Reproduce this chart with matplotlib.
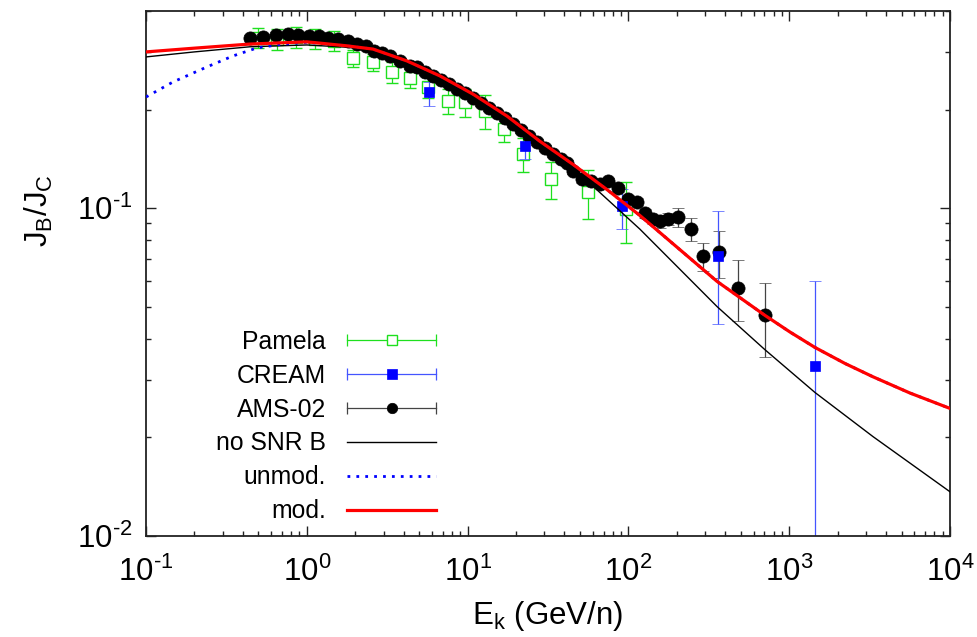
import math
import matplotlib
matplotlib.use('Agg')
import matplotlib.pyplot as plt
from matplotlib.legend_handler import HandlerBase
from matplotlib.lines import Line2D
from matplotlib.ticker import LogLocator, NullFormatter, FuncFormatter

plt.rcParams['font.family'] = ['Liberation Sans', 'DejaVu Sans']
plt.rcParams['mathtext.fontset'] = 'custom'
plt.rcParams['mathtext.rm'] = 'Liberation Sans'
plt.rcParams['mathtext.it'] = 'Liberation Sans:italic'
plt.rcParams['mathtext.default'] = 'regular'

# ---------------- data ----------------
pam_E = [0.497, 0.653, 0.857, 1.125, 1.476, 1.938, 2.581, 3.388, 4.384, 5.67,
         7.553, 9.634, 12.83, 16.84, 22.11, 33.02, 56.09, 96.6]
pam_val = [0.3311, 0.3287, 0.3334, 0.3287, 0.3241, 0.2870, 0.2790, 0.2600, 0.2492, 0.2344,
           0.2129, 0.2105, 0.1980, 0.1744, 0.1463, 0.1227, 0.1119, 0.0993]
pam_err = [0.023, 0.024, 0.024, 0.023, 0.023, 0.017, 0.017, 0.019, 0.017, 0.017,
           0.019, 0.021, 0.023, 0.015, 0.017, 0.016, 0.019, 0.021]

cream_E = [5.75, 22.75, 91.2, 360.6, 1447]
cream_val = [0.2263, 0.1547, 0.1014, 0.0713, 0.0329]
cream_err_lo = [0.021, 0.0135, 0.0151, 0.0271, 0.0279]
cream_err_hi = [0.0165, 0.0135, 0.0129, 0.0266, 0.0269]

ams_E = [0.443, 0.534, 0.643, 0.764, 0.882, 1.032, 1.191, 1.354, 1.563, 1.804,
         2.052, 2.334, 2.617, 2.936, 3.292, 3.798, 4.384, 4.845, 5.435, 6.093,
         6.833, 7.661, 8.594, 9.634, 10.80, 12.11, 13.59, 15.23, 17.08, 19.16,
         21.48, 24.09, 27.02, 30.29, 33.97, 38.09, 41.5, 45.24, 51.45, 58.55,
         66.6, 74.7, 86.1, 99.4, 113.1, 126.8, 142.2, 157.2, 176.3, 203.4,
         245.1, 291.1, 366.0, 480.4, 707.2]
ams_val = [0.3311, 0.3334, 0.3381, 0.3405, 0.3381, 0.3357, 0.3357, 0.3311, 0.3287, 0.3241,
           0.3173, 0.3129, 0.3020, 0.2979, 0.2916, 0.2815, 0.2718, 0.2699, 0.2606, 0.2533,
           0.2463, 0.2394, 0.2312, 0.2248, 0.2170, 0.2095, 0.2022, 0.1952, 0.1885, 0.1807,
           0.1732, 0.1660, 0.1592, 0.1526, 0.1463, 0.1412, 0.1376, 0.1298, 0.1227, 0.1209,
           0.1184, 0.1209, 0.1151, 0.1065, 0.1043, 0.0965, 0.0926, 0.0913, 0.0926, 0.0939,
           0.0863, 0.0713, 0.0733, 0.0573, 0.0471]
ams_err = [0.006, 0.006, 0.006, 0.006, 0.006, 0.006, 0.006, 0.006, 0.006, 0.006,
           0.006, 0.006, 0.005, 0.005, 0.005, 0.005, 0.005, 0.005, 0.005, 0.005,
           0.005, 0.005, 0.004, 0.004, 0.004, 0.004, 0.004, 0.004, 0.004, 0.004,
           0.004, 0.003, 0.003, 0.003, 0.003, 0.003, 0.003, 0.003, 0.003, 0.003,
           0.003, 0.003, 0.003, 0.003, 0.003, 0.003, 0.003, 0.004, 0.004, 0.006,
           0.007, 0.007, 0.012, 0.012, 0.012]

nosnr_E = [0.1, 0.2, 0.443, 1.0, 1.778, 2.58, 4.2, 6.74, 10.8, 17.6, 28.2, 45.3, 57.7,
           118, 356, 707, 1447, 3319, 10000]
nosnr_val = [0.2896, 0.300, 0.311, 0.315, 0.310, 0.303, 0.279, 0.251, 0.221, 0.189, 0.158,
             0.134, 0.119, 0.0863, 0.0501, 0.0370, 0.0274, 0.0201, 0.01364]

unmod_E = [0.1, 0.147, 0.2395, 0.3475, 0.490, 0.681, 1.0, 1.778, 2.58, 4.2, 6.74, 10.8,
           17.6, 28.2, 45.3, 73.6, 118, 356, 707, 1012, 1447, 2223, 3319, 5636, 10000]
unmod_val = [0.2185, 0.2428, 0.270, 0.2916, 0.3085, 0.316, 0.321, 0.313, 0.306, 0.2815,
             0.2533, 0.223, 0.191, 0.160, 0.136, 0.114, 0.095, 0.0598, 0.0471, 0.0419,
             0.0376, 0.0336, 0.0306, 0.0273, 0.0245]

mod_E = [0.1, 0.2, 0.443, 1.0, 1.778, 2.58, 4.2, 6.74, 10.8, 17.6, 28.2, 45.3, 73.6,
         118, 356, 707, 1012, 1447, 2223, 3319, 5636, 10000]
mod_val = [0.300, 0.308, 0.317, 0.322, 0.313, 0.306, 0.2815, 0.2533, 0.223, 0.191, 0.160,
           0.136, 0.114, 0.095, 0.0598, 0.0471, 0.0419, 0.0376, 0.0336, 0.0306, 0.0273,
           0.0245]

# ---------------- styling ----------------
GREEN = '#1ee01e'
BLUE = '#0000ff'
EBLUE = '#4455ff'
RED = '#ff0000'
FS_TICK = 22.5
FS_LEG = 17.8

fig = plt.figure(figsize=(9.78, 6.37), dpi=100)
ax = fig.add_axes([0.1493, 0.1586, 0.8221, 0.8242])
ax.set_xscale('log')
ax.set_yscale('log')

ax.errorbar(pam_E, pam_val, yerr=pam_err, fmt='s', mfc='white', mec=GREEN, ecolor=GREEN,
            ms=8, mew=1.0, elinewidth=0.9, capsize=4, capthick=0.9, zorder=2)
ax.errorbar(cream_E, cream_val, yerr=[cream_err_lo, cream_err_hi], fmt='s', mfc=BLUE, mec=BLUE,
            ecolor=EBLUE, ms=7.5, mew=0.5, elinewidth=0.9, capsize=4, capthick=0.9, zorder=2.2)
ax.errorbar(ams_E, ams_val, yerr=ams_err, fmt='o', mfc='black', mec='black', ecolor='#444444',
            ms=9.5, mew=0.5, elinewidth=0.9, capsize=4, capthick=0.9, zorder=2.1)

ax.plot(nosnr_E, nosnr_val, color='black', lw=1.0, zorder=3)
ax.plot(unmod_E, unmod_val, color=BLUE, lw=2.0, ls=(0, (1, 2.2)), zorder=3.1)
ax.plot(mod_E, mod_val, color=RED, lw=2.3, zorder=3.2)

ax.set_xlim(0.1, 1e4)
ax.set_ylim(0.01, 0.4)

ax.xaxis.set_major_locator(LogLocator(base=10, numticks=20))
ax.xaxis.set_minor_locator(LogLocator(base=10, subs=range(2, 10), numticks=20))
ax.yaxis.set_major_locator(LogLocator(base=10, numticks=20))
ax.yaxis.set_minor_locator(LogLocator(base=10, subs=range(2, 10), numticks=20))


def dec_fmt(v, p):
    e = round(math.log10(v))
    s = str(e).replace('-', '\u2010')
    return r'$\mathregular{10^{%s}}$' % s


fmt = FuncFormatter(dec_fmt)
ax.xaxis.set_major_formatter(fmt)
ax.yaxis.set_major_formatter(fmt)
ax.xaxis.set_minor_formatter(NullFormatter())
ax.yaxis.set_minor_formatter(NullFormatter())
ax.tick_params(which='both', direction='in', top=True, right=True, labelsize=FS_TICK,
               color='#222222', width=1.0)
ax.tick_params(which='major', length=7)
ax.tick_params(which='minor', length=3.5)
ax.tick_params(axis='x', which='major', pad=15)
ax.tick_params(axis='y', which='major', pad=10)
for s in ax.spines.values():
    s.set_linewidth(1.3)
    s.set_color('#222222')

ax.set_xlabel(r'$\mathregular{E_k}$ (GeV/n)', fontsize=FS_TICK, labelpad=8)
ax.set_ylabel(r'$\mathregular{J_B/J_C}$', fontsize=FS_TICK)
ax.yaxis.set_label_coords(-0.113, 0.62)


class HErr(HandlerBase):
    def __init__(self, ecolor, capsize=5, **kw):
        super().__init__(**kw)
        self.ecolor = ecolor
        self.capsize = capsize

    def create_artists(self, legend, orig, xdescent, ydescent, width, height, fontsize, trans):
        y = height / 2 - ydescent
        x0 = -xdescent
        x1 = x0 + width
        ln = Line2D([x0, x1], [y, y], color=self.ecolor, lw=0.9)
        caps = Line2D([x0, x1], [y, y], ls='none', marker='|', ms=self.capsize * 1.6,
                      mew=0.9, color=self.ecolor)
        mk = Line2D([(x0 + x1) / 2], [y], ls='none', marker=orig.get_marker(),
                    ms=orig.get_markersize(), mfc=orig.get_markerfacecolor(),
                    mec=orig.get_markeredgecolor(), mew=orig.get_markeredgewidth())
        for a in (ln, caps, mk):
            a.set_transform(trans)
        return [ln, caps, mk]


h_pam = Line2D([], [], marker='s', ms=7, mfc='white', mec=GREEN, mew=1.0, ls='none')
h_cream = Line2D([], [], marker='s', ms=7, mfc=BLUE, mec=BLUE, mew=0.5, ls='none')
h_ams = Line2D([], [], marker='o', ms=7.5, mfc='black', mec='black', mew=0.5, ls='none')
h_nosnr = Line2D([], [], color='black', lw=1.0)
h_unmod = Line2D([], [], color=BLUE, lw=2.0, ls=(0, (1, 2.2)))
h_mod = Line2D([], [], color=RED, lw=2.3)

leg = ax.legend([h_pam, h_cream, h_ams, h_nosnr, h_unmod, h_mod],
                ['Pamela', 'CREAM', 'AMS-02', 'no SNR B', 'unmod.', 'mod.'],
                handler_map={h_pam: HErr(GREEN), h_cream: HErr(EBLUE), h_ams: HErr('#444444')},
                loc='center right', bbox_to_anchor=(0.3607, 0.2086), frameon=False,
                markerfirst=False, fontsize=FS_LEG, handlelength=3.6, handletextpad=0.85,
                labelspacing=0.4, borderpad=0, borderaxespad=0)

fig.savefig('out.png', dpi=100)
